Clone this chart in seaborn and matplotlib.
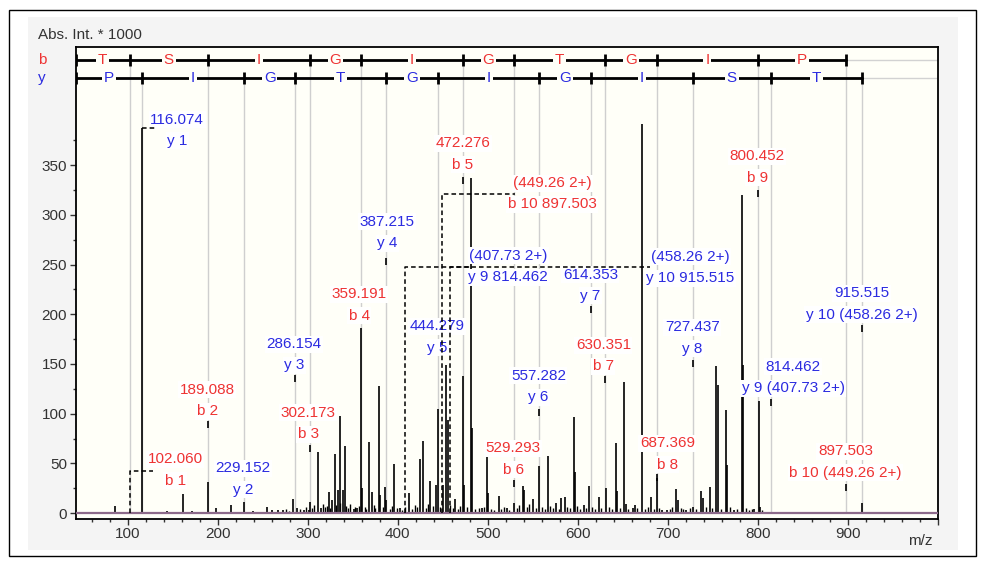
import numpy as np
import matplotlib
matplotlib.use('Agg')
import matplotlib.pyplot as plt
import matplotlib.patches as mpatches
import seaborn as sns

# %% data
# peptide sequence read from the b and y ladders
b_residues = ['T', 'S', 'I', 'G', 'I', 'G', 'T', 'G', 'I', 'P']
y_residues = ['P', 'I', 'G', 'T', 'G', 'I', 'G', 'I', 'S', 'T']

# theoretical fragment ions (m/z)
b_ions = [102.060, 189.088, 302.173, 359.191, 472.276, 529.293, 630.351, 687.369, 800.452, 897.503]
y_ions = [116.074, 229.152, 286.154, 387.215, 444.279, 557.282, 614.353, 727.437, 814.462, 915.515]

# doubly charged precursor annotations
b10_2plus = 449.26
y9_2plus = 407.73
y10_2plus = 458.26

# measured peaks (m/z, Abs. Int. * 1000)
peak_mz = [86.4, 116.1, 143.6, 161.3, 171.3, 189.1, 198.3, 214.7, 229.2, 239.1,
           254.7, 260.6, 266.4, 272.0, 283.6, 288.0, 295.3, 300.9, 302.2, 311.3,
           314.7, 323.1, 326.9, 329.8, 333.1, 335.8, 338.7, 340.9, 350.9, 354.7,
           359.2, 360.2, 368.0, 370.9, 378.7, 380.6, 386.1, 387.2, 396.1, 402.8,
           412.8, 424.2, 428.0, 436.1, 442.8, 444.3, 450.2, 453.1, 455.6, 463.9,
           472.3, 473.9, 481.1, 482.8, 493.6, 499.4, 500.6, 512.0, 521.3, 529.3,
           538.7, 540.6, 550.2, 556.9, 566.9, 576.1, 581.7, 585.3, 595.3, 596.7,
           606.4, 612.8, 623.9, 631.7, 642.8, 643.9, 651.7, 653.6, 660.9, 663.9,
           670.9, 681.3, 688.0, 693.6, 699.1, 709.4, 710.9, 720.6, 728.0, 736.4,
           739.1, 746.2, 753.9, 755.3, 764.7, 765.8, 773.1, 782.6, 783.7, 796.1,
           800.9, 802.0, 915.8]
peak_int = [7, 387, 2, 19, 2.5, 31, 5, 8, 11, 2,
            6, 3, 3, 3, 14, 5, 3, 3, 11, 61,
            5, 21, 13, 59, 23, 98, 23, 67, 4, 5,
            186, 25, 71, 21, 128, 18, 26, 13, 49, 5,
            20, 54, 72, 32, 28, 105, 28, 149, 94, 14,
            138, 28, 337, 86, 5, 68, 20, 17, 5, 10,
            27, 23, 14, 47, 57, 10, 15, 16, 97, 41,
            8, 27, 16, 25, 70, 22, 132, 9, 5, 8,
            392, 16, 35, 3, 3, 24, 13, 3, 6, 22,
            15, 26, 148, 129, 104, 48, 3, 320, 149, 4,
            113, 6, 10]

# small background peaks
noise_mz = [276, 279, 291, 298, 305, 307, 317, 319, 321, 325, 331, 336, 343, 345, 347,
            352, 357, 363, 365, 373, 375, 383, 391, 393, 399, 405, 408, 416, 419, 421,
            431, 433, 439, 447, 458, 461, 467, 469, 477, 486, 490, 496, 503, 507, 515,
            518, 524, 532, 535, 543, 546, 553, 560, 563, 569, 572, 579, 588, 591, 599,
            602, 609, 616, 619, 626, 635, 638, 647, 656, 666, 675, 678, 684, 690, 702,
            705, 714, 717, 724, 731, 742, 749, 759, 769, 777, 787, 790, 793, 805]
noise_int = [4, 2, 4, 6, 5, 8, 9, 6, 7, 5, 8, 10, 7, 5, 9,
             6, 7, 6, 4, 8, 5, 6, 4, 7, 5, 3, 6, 4, 8, 6,
             5, 9, 7, 6, 8, 5, 4, 7, 6, 4, 5, 6, 4, 3, 4,
             6, 3, 5, 8, 6, 9, 5, 6, 4, 7, 5, 4, 6, 5, 7,
             4, 5, 6, 4, 5, 6, 4, 5, 4, 5, 4, 6, 4, 5, 4,
             6, 5, 4, 5, 4, 6, 5, 4, 6, 4, 5, 3, 4, 3]

# annotation texts
label_line1 = ['116.074', '102.060', '189.088', '229.152', '286.154', '302.173', '359.191',
               '387.215', '444.279', '472.276', '(449.26 2+)', '(407.73 2+)', '614.353',
               '(458.26 2+)', '630.351', '557.282', '529.293', '687.369', '727.437',
               '800.452', '814.462', '915.515', '897.503']
label_line2 = ['y 1', 'b 1', 'b 2', 'y 2', 'y 3', 'b 3', 'b 4', 'y 4', 'y 5', 'b 5',
               'b 10 897.503', 'y 9 814.462', 'y 7', 'y 10 915.515', 'b 7', 'y 6', 'b 6',
               'b 8', 'y 8', 'b 9', 'y 9 (407.73 2+)', 'y 10 (458.26 2+)', 'b 10 (449.26 2+)']
label_kind = ['y', 'b', 'b', 'y', 'y', 'b', 'b', 'y', 'y', 'b', 'b', 'y', 'y', 'y',
              'b', 'y', 'b', 'b', 'y', 'b', 'y', 'y', 'b']

# %% layout (label centres in data units)
label_x = [155.0, 152.8, 188.3, 228.3, 285.0, 300.6, 357.2, 388.3, 443.9, 472.0,
           571.7, 522.8, 613.9, 725.0, 628.3, 556.1, 528.3, 699.4, 727.2, 799.4,
           839.4, 915.0, 897.2]
label_y = [396, 54, 124, 45, 170, 101, 220, 293, 188, 372,
           332, 259, 240, 258, 169, 138, 65, 70, 187, 359,
           147, 221, 62]
line_gap = 21.5

marker_mz = [189.088, 286.154, 302.173, 387.215, 472.276, 529.293, 557.282, 614.353,
             630.351, 687.369, 727.437, 800.452, 814.462, 897.503, 915.515]
marker_top = [93, 139, 68, 257, 338, 33, 105, 208, 138, 39, 154, 325, 115, 29, 189]

xlim = (42, 1000)
ylim = (-6, 469)
b_row, y_row = 455.5, 437.5

red = '#ee3333'
blue = '#2b2be0'

# %% plot
sns.set_theme(style='white')
plt.rcParams['font.family'] = ['Liberation Sans Narrow', 'Liberation Sans', 'DejaVu Sans']
plt.rcParams['font.size'] = 11

W, H = 995, 566
fig = plt.figure(figsize=(W / 100, H / 100), dpi=100)
fig.patch.set_facecolor('white')
fig.add_artist(mpatches.Rectangle((28 / W, 1 - 550 / H), 930 / W, 533 / H, transform=fig.transFigure,
                                  facecolor='#f4f4f4', edgecolor='none', zorder=-2))
fig.add_artist(mpatches.Rectangle((9 / W, 1 - 556 / H), 967 / W, 546 / H, transform=fig.transFigure,
                                  fill=False, edgecolor='black', lw=1, zorder=-1))

ax = fig.add_axes([75.5 / W, 1 - 519 / H, 862.5 / W, 472 / H])
ax.set_facecolor('#fffff8')
ax.set_xlim(*xlim)
ax.set_ylim(*ylim)

# gray guides
ax.axhline(b_row, color='#d2d2d2', lw=1, zorder=1)
ax.axhline(y_row, color='#d2d2d2', lw=1, zorder=1)
ax.vlines(b_ions, 0, b_row, color='#cfcfcf', lw=1, zorder=1)
ax.vlines(y_ions, 0, y_row, color='#cfcfcf', lw=1, zorder=1)

# spectrum
ax.vlines(noise_mz, 0, noise_int, color='black', lw=1.0, zorder=3)
ax.vlines(peak_mz, 0, peak_int, color='black', lw=1.2, zorder=3)
ax.axhline(0, color='#8c6a8a', lw=1.6, zorder=4)

# annotation labels
for x, y, s1, s2, k in zip(label_x, label_y, label_line1, label_line2, label_kind):
    c = red if k == 'b' else blue
    for s, yy in ((s1, y), (s2, y - line_gap)):
        ax.text(x, yy, s, color=c, ha='center', va='center', fontsize=11, zorder=4,
                bbox=dict(boxstyle='square,pad=0.1', fc='white', ec='none'))

# short ticks below labels
ax.vlines(marker_mz, np.array(marker_top) - 7, marker_top, color='black', lw=1.2, zorder=5)

# dashed leaders
dash = dict(color='black', lw=1.1, ls=(0, (3, 2)), zorder=6)
ax.plot([y_ions[0], 130.6], [387, 387], **dash)
ax.plot([b_ions[0], b_ions[0], 128.3], [0, 42, 42], **dash)
ax.plot([b10_2plus, b10_2plus, 530.6], [0, 321, 321], **dash)
ax.plot([y9_2plus, y9_2plus, 480], [0, 247.5, 247.5], **dash)
ax.plot([y10_2plus, y10_2plus, 680.6], [0, 247.5, 247.5], **dash)

# sequence ladders
for row, ions, res, c in ((b_row, b_ions, b_residues, red), (y_row, y_ions, y_residues, blue)):
    edges = [xlim[0]] + list(ions)
    ax.plot([edges[0], edges[-1]], [row, row], color='black', lw=2, zorder=5)
    sns.scatterplot(x=edges, y=[row] * len(edges), marker='|', s=70, color='black',
                    linewidth=2, ax=ax, zorder=6, legend=False)
    for a, b_, r in zip(edges[:-1], edges[1:], res):
        ax.text((a + b_) / 2, row, r, color=c, ha='center', va='center', fontsize=11, zorder=7,
                bbox=dict(boxstyle='square,pad=0.12', fc='#fffff8', ec='none'))

# axes styling
ax.set_xticks(range(100, 1001, 100))
ax.set_xticklabels([str(v) for v in range(100, 1000, 100)] + [''])
ax.set_xticks(np.arange(60, 1000, 20), minor=True)
ax.set_yticks(range(0, 351, 50))
ax.set_yticks(range(25, 376, 50), minor=True)
ax.tick_params(which='major', direction='out', length=4, width=1, color='#333333',
               labelcolor='#333333', labelsize=11, bottom=True, left=True, pad=2)
ax.tick_params(which='minor', direction='out', length=2.5, width=1, color='#333333',
               bottom=True, left=True)
ax.set_xlabel('')
ax.set_ylabel('')
for sp in ax.spines.values():
    sp.set_color('black')
    sp.set_linewidth(1.3)

fig.text(38 / W, 1 - 35 / H, 'Abs. Int. * 1000', ha='left', va='center', fontsize=11, color='#333333')
fig.text(42 / W, 1 - 60 / H, 'b', ha='center', va='center', fontsize=11, color=red)
fig.text(42 / W, 1 - 78 / H, 'y', ha='center', va='center', fontsize=11, color=blue)
fig.text(920 / W, 1 - 541 / H, 'm/z', ha='center', va='center', fontsize=11, color='#333333')

fig.savefig('out.png', dpi=100)
